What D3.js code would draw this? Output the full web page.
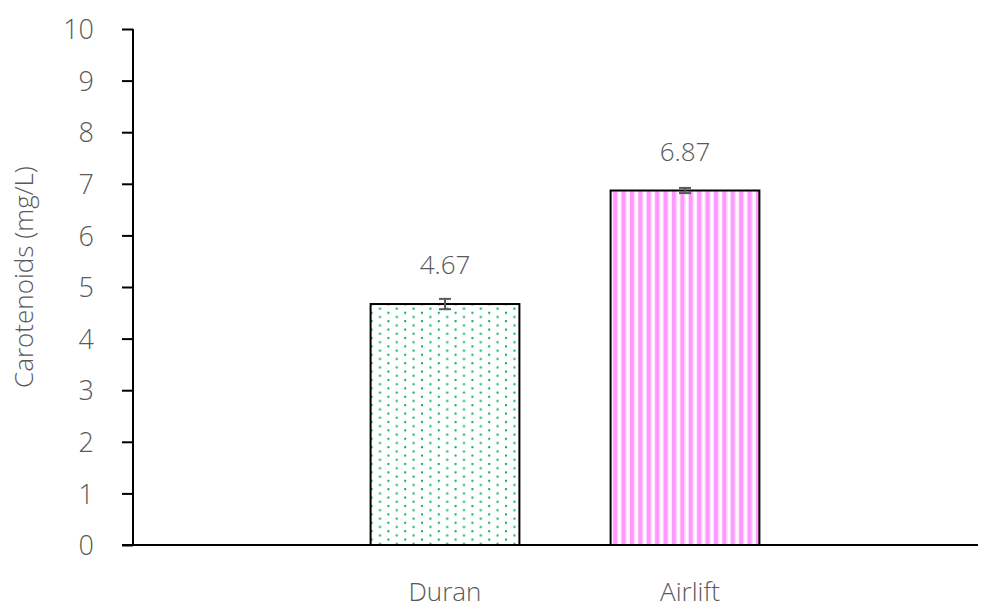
<!DOCTYPE html>
<html>
<head>
<meta charset="utf-8">
<script src="https://cdn.jsdelivr.net/npm/d3@7"></script>
<style>
  body { margin: 0; background: #fff; }
  text { font-family: "Open Sans", "Noto Sans", sans-serif; font-weight: 300; fill: #595959; }
</style>
</head>
<body>
<script>
// chart data
var categories = ["Duran", "Airlift"];
var values = [4.67, 6.87];
var errors = [0.1, 0.05];
var valueLabels = ["4.67", "6.87"];
var yTicks = [0, 1, 2, 3, 4, 5, 6, 7, 8, 9, 10];
var yTitle = "Carotenoids (mg/L)";

var width = 990, height = 611;

var svg = d3.select("body")
  .append("svg")
  .attr("width", width)
  .attr("height", height);

// patterns for the bars
var defs = svg.append("defs");

var dots = defs.append("pattern")
  .attr("id", "dots")
  .attr("patternUnits", "userSpaceOnUse")
  .attr("width", 16.8)
  .attr("height", 8.4);
dots.append("rect").attr("x", 1).attr("y", 1).attr("width", 2).attr("height", 2).attr("fill", "#00b050");
dots.append("rect").attr("x", 9.4).attr("y", 5.2).attr("width", 2).attr("height", 2).attr("fill", "#00b050");

var stripes = defs.append("pattern")
  .attr("id", "stripes")
  .attr("patternUnits", "userSpaceOnUse")
  .attr("width", 8.4)
  .attr("height", 10);
stripes.append("rect").attr("width", 8.4).attr("height", 10).attr("fill", "#fde8fd");
stripes.append("rect").attr("x", 0).attr("width", 4).attr("height", 10).attr("fill", "#ff99ff");
stripes.append("rect").attr("x", 5.5).attr("width", 1.6).attr("height", 10).attr("fill", "#ffffff");

var fills = ["url(#dots)", "url(#stripes)"];

// scales
var xScale = d3.scaleBand()
  .domain(categories)
  .range([325, 805])
  .paddingInner(0.38)
  .paddingOuter(0.19);

var yScale = d3.scaleLinear()
  .domain([0, 10])
  .range([545, 29]);

// bars
svg.selectAll(".bar")
  .data(values)
  .enter()
  .append("rect")
  .attr("class", "bar")
  .attr("x", function(d, i) { return xScale(categories[i]); })
  .attr("y", function(d) { return yScale(d); })
  .attr("width", xScale.bandwidth())
  .attr("height", function(d) { return yScale(0) - yScale(d); })
  .attr("fill", function(d, i) { return fills[i]; })
  .attr("stroke", "#000")
  .attr("stroke-width", 2);

// error bars
var err = svg.append("g").attr("class", "errors")
  .attr("stroke", "#595959")
  .attr("stroke-width", 2);
values.forEach(function(v, i) {
  var cx = xScale(categories[i]) + xScale.bandwidth() / 2;
  err.append("line")
    .attr("x1", cx).attr("x2", cx)
    .attr("y1", yScale(v + errors[i])).attr("y2", yScale(v - errors[i]));
  [v + errors[i], v - errors[i]].forEach(function(e) {
    err.append("line")
      .attr("x1", cx - 6).attr("x2", cx + 6)
      .attr("y1", yScale(e)).attr("y2", yScale(e));
  });
});

// value labels
svg.selectAll(".vlabel")
  .data(values)
  .enter()
  .append("text")
  .attr("class", "vlabel")
  .attr("x", function(d, i) { return xScale(categories[i]) + xScale.bandwidth() / 2; })
  .attr("y", function(d) { return yScale(d) - 30; })
  .attr("text-anchor", "middle")
  .style("font-size", "26px")
  .text(function(d, i) { return valueLabels[i]; });

// y axis
var yAxis = d3.axisLeft(yScale)
  .tickValues(yTicks)
  .tickSize(11)
  .tickPadding(28)
  .tickFormat(d3.format("d"));

var gy = svg.append("g")
  .attr("transform", "translate(133,0)")
  .call(yAxis);
gy.select(".domain").attr("stroke", "#000").attr("stroke-width", 2).attr("d", "M0,29V545");
gy.selectAll(".tick line").attr("stroke", "#000").attr("stroke-width", 2);
gy.selectAll(".tick text")
  .style("font-size", "27px")
  .style("font-family", "\"Open Sans\", \"Noto Sans\", sans-serif")
  .style("font-weight", 300)
  .attr("fill", "#595959")
  .attr("dy", "0.36em");

// x axis line
svg.append("line")
  .attr("x1", 122).attr("x2", 978)
  .attr("y1", yScale(0)).attr("y2", yScale(0))
  .attr("stroke", "#000")
  .attr("stroke-width", 2);

// category labels
svg.selectAll(".clabel")
  .data(categories)
  .enter()
  .append("text")
  .attr("class", "clabel")
  .attr("x", function(d) { return xScale(d) + xScale.bandwidth() / 2 + (d == "Airlift" ? 5 : 0); })
  .attr("y", 601)
  .attr("text-anchor", "middle")
  .style("font-size", "26px")
  .text(function(d) { return d; });

// y title
svg.append("text")
  .attr("transform", "translate(33,277)rotate(-90)")
  .attr("text-anchor", "middle")
  .style("font-size", "26px")
  .text(yTitle);
</script>
</body>
</html>
